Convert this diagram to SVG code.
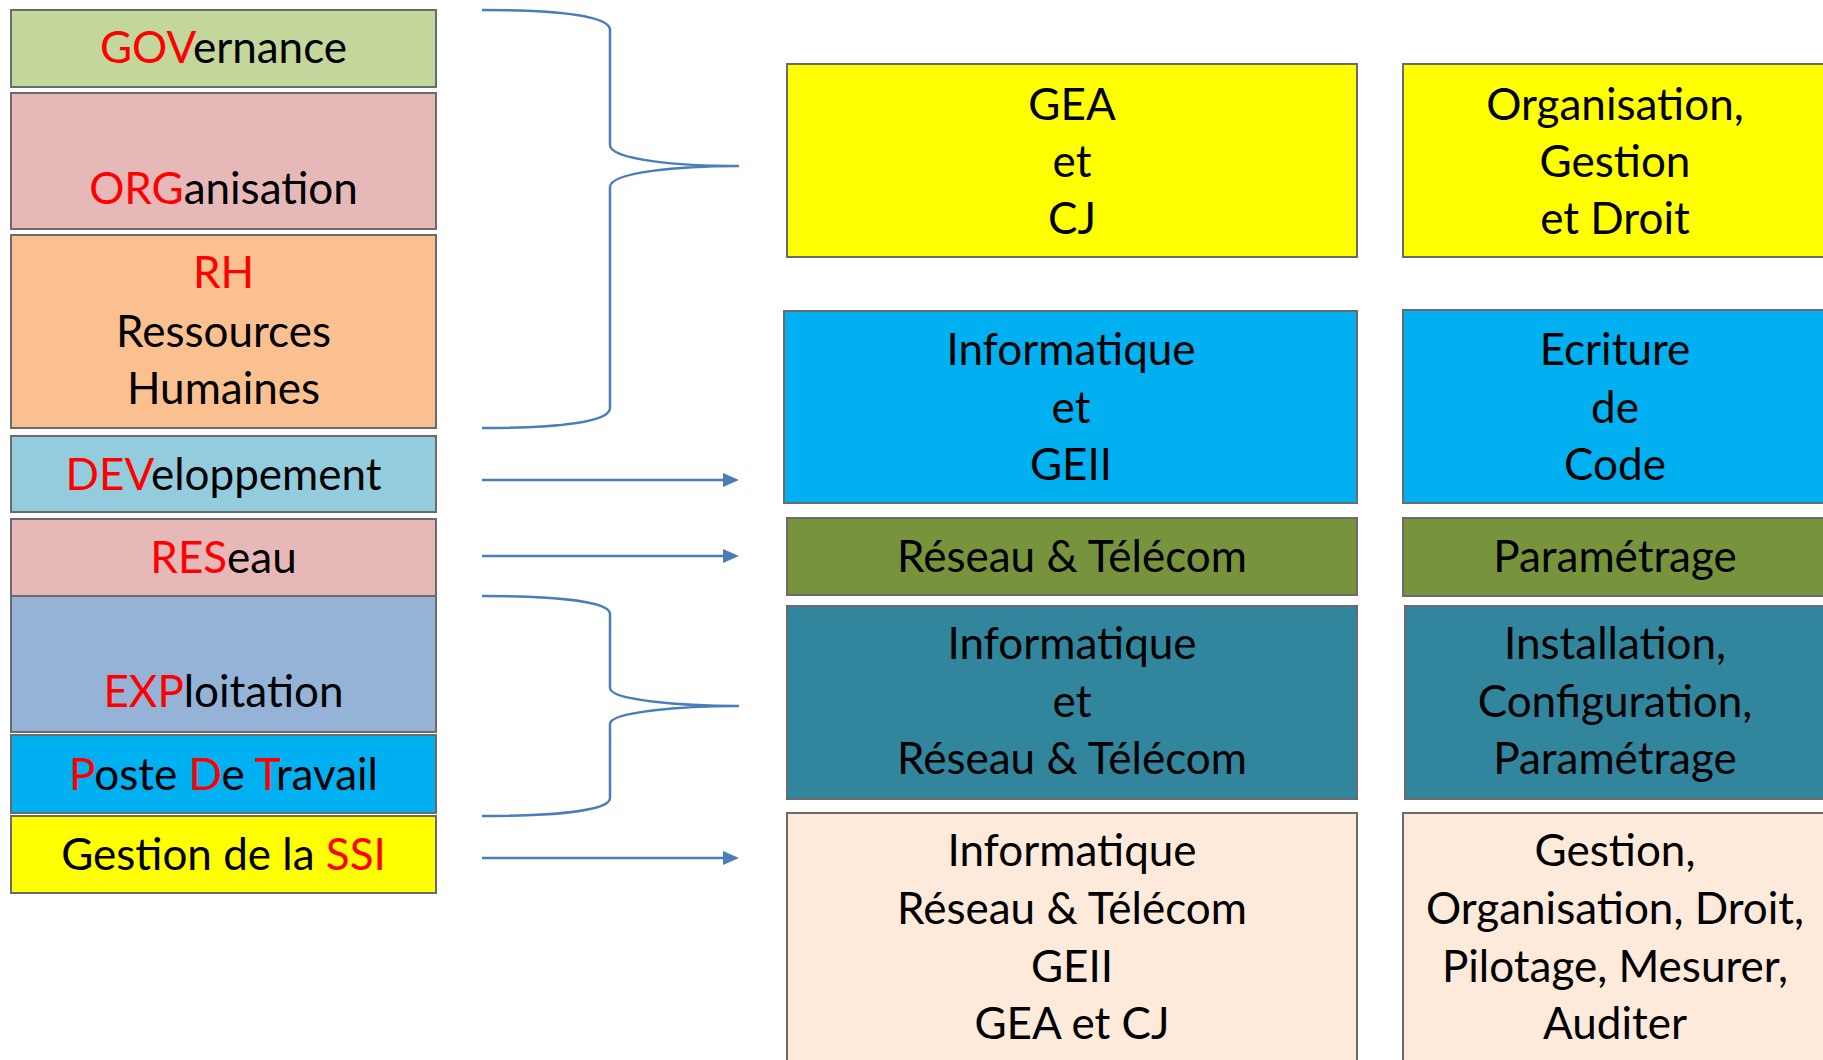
<svg xmlns="http://www.w3.org/2000/svg" width="1823" height="1060" viewBox="0 0 1823 1060">
<defs>
<style>
.box{stroke:#6b6b6b;stroke-width:2}
.t{font-family:Lato,"Liberation Sans",sans-serif;font-size:44px;fill:#000;text-anchor:middle}
.r{fill:#FF0000}
.c{fill:none;stroke:#4A7EBB;stroke-width:2.5}
</style>
<marker id="ah" markerUnits="userSpaceOnUse" markerWidth="16" markerHeight="14" refX="2" refY="7" orient="auto">
<path d="M0,0 L16,7 L0,14 z" fill="#4A7EBB"/>
</marker>
</defs>
<rect width="1823" height="1060" fill="#fff"/>

<g id="gov"><rect class="box" x="11" y="10" width="425" height="77" fill="#C3D69B"/>
<text class="t" x="223.5" y="63"><tspan class="r">GOV</tspan>ernance</text></g>
<g id="org"><rect class="box" x="11" y="93" width="425" height="136" fill="#E6B9B8"/>
<text class="t" x="223.5" y="204"><tspan class="r">ORG</tspan>anisation</text></g>
<g id="rh"><rect class="box" x="11" y="235" width="425" height="193" fill="#FAC090"/>
<text class="t" x="223.5" y="288"><tspan class="r">RH</tspan></text>
<text class="t" x="223.5" y="347">Ressources</text>
<text class="t" x="223.5" y="404">Humaines</text></g>
<g id="dev"><rect class="box" x="11" y="436" width="425" height="76" fill="#93CDDD"/>
<text class="t" x="223.5" y="490"><tspan class="r">DEV</tspan>eloppement</text></g>
<g id="res"><rect class="box" x="11" y="519" width="425" height="77" fill="#E6B9B8"/>
<text class="t" x="223.5" y="573"><tspan class="r">RES</tspan>eau</text></g>
<g id="exp"><rect class="box" x="11" y="596" width="425" height="136" fill="#95B3D7"/>
<text class="t" x="223.5" y="707"><tspan class="r">EXP</tspan>loitation</text></g>
<g id="pdt"><rect class="box" x="11" y="735" width="425" height="78" fill="#00B0F0"/>
<text class="t" x="223.5" y="790"><tspan class="r">P</tspan>oste <tspan class="r">D</tspan>e <tspan class="r">T</tspan>ravail</text></g>
<g id="ssi"><rect class="box" x="11" y="816" width="425" height="77" fill="#FFFF00"/>
<text class="t" x="223.5" y="870">Gestion de la <tspan class="r">SSI</tspan></text></g>

<g id="gea"><rect class="box" x="787" y="64" width="570" height="193" fill="#FFFF00"/>
<text class="t" x="1072" y="120">GEA</text>
<text class="t" x="1072" y="177">et</text>
<text class="t" x="1072" y="234">CJ</text></g>
<g id="info-geii"><rect class="box" x="784" y="311" width="573" height="192" fill="#00B0F0"/>
<text class="t" x="1071" y="365">Informatique</text>
<text class="t" x="1071" y="423">et</text>
<text class="t" x="1071" y="480">GEII</text></g>
<g id="rt"><rect class="box" x="787" y="518" width="570" height="77" fill="#77933C"/>
<text class="t" x="1072" y="572">Réseau &amp; Télécom</text></g>
<g id="info-rt"><rect class="box" x="787" y="606" width="570" height="193" fill="#31859C"/>
<text class="t" x="1072" y="659">Informatique</text>
<text class="t" x="1072" y="717">et</text>
<text class="t" x="1072" y="774">Réseau &amp; Télécom</text></g>
<g id="all"><rect class="box" x="787" y="813" width="570" height="260" fill="#FDEADA"/>
<text class="t" x="1072" y="866">Informatique</text>
<text class="t" x="1072" y="924">Réseau &amp; Télécom</text>
<text class="t" x="1072" y="982">GEII</text>
<text class="t" x="1072" y="1039">GEA et CJ</text></g>

<g id="ogd"><rect class="box" x="1403" y="64" width="430" height="193" fill="#FFFF00"/>
<text class="t" x="1615" y="120">Organisation,</text>
<text class="t" x="1615" y="177">Gestion</text>
<text class="t" x="1615" y="234">et Droit</text></g>
<g id="code"><rect class="box" x="1403" y="310" width="430" height="193" fill="#00B0F0"/>
<text class="t" x="1615" y="365">Ecriture</text>
<text class="t" x="1615" y="423">de</text>
<text class="t" x="1615" y="480">Code</text></g>
<g id="param"><rect class="box" x="1403" y="518" width="430" height="78" fill="#77933C"/>
<text class="t" x="1615" y="572">Paramétrage</text></g>
<g id="install"><rect class="box" x="1405" y="606" width="430" height="193" fill="#31859C"/>
<text class="t" x="1615" y="659">Installation,</text>
<text class="t" x="1615" y="717">Configuration,</text>
<text class="t" x="1615" y="774">Paramétrage</text></g>
<g id="gestion"><rect class="box" x="1403" y="813" width="430" height="260" fill="#FDEADA"/>
<text class="t" x="1615" y="866">Gestion,</text>
<text class="t" x="1615" y="924">Organisation, Droit,</text>
<text class="t" x="1615" y="982">Pilotage, Mesurer,</text>
<text class="t" x="1615" y="1039">Auditer</text></g>

<g id="connectors">
<path class="c" d="M482,10 C560,10 610,16 610,30 L610,145 C610,160 680,166 739,166 C680,166 610,172 610,187 L610,408 C610,422 560,428 482,428"/>
<path class="c" d="M482,596 C560,596 610,602 610,614 L610,688 C610,700 680,706 739,706 C680,706 610,712 610,724 L610,798 C610,810 560,816 482,816"/>
<line class="c" x1="482" y1="480" x2="725" y2="480" marker-end="url(#ah)"/>
<line class="c" x1="482" y1="556" x2="725" y2="556" marker-end="url(#ah)"/>
<line class="c" x1="482" y1="858" x2="725" y2="858" marker-end="url(#ah)"/>
</g>
</svg>
